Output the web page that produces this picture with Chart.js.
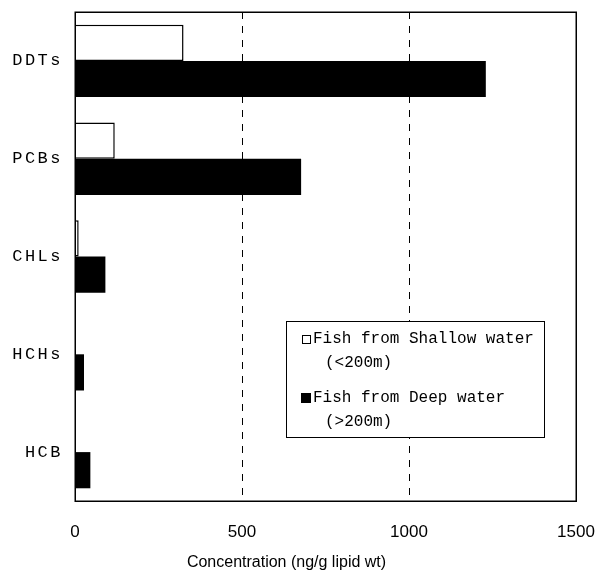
<!DOCTYPE html>
<html><head><meta charset="utf-8">
<script src="https://cdn.jsdelivr.net/npm/chart.js@4.4.1/dist/chart.umd.min.js"></script>
<style>html,body{margin:0;padding:0;background:#fff}#wrap{width:599px;height:573px;position:relative}</style>
</head><body><div id="wrap"><canvas id="c"></canvas></div>
<script>
const categories = ['DDTs', 'PCBs', 'CHLs', 'HCHs', 'HCB'];
const shallowValues = [325, 119, 11, 0, 0];
const deepValues = [1230, 677, 91, 27, 46];
const xTickValues = [0, 500, 1000, 1500];
const shallowLabel = ['Fish from Shallow water', '(<200m)'];
const deepLabel = ['Fish from Deep water', '(>200m)'];
const xAxisTitle = 'Concentration (ng/g lipid wt)';

Chart.defaults.color = '#000';
Chart.defaults.font.family = '"Liberation Sans", Arial, sans-serif';

const decorPlugin = {
  id: 'decor',
  beforeDraw(chart) {
    const y = chart.scales.y;
    if (y && !y._lsWrapped) {
      const orig = y.drawLabels;
      y.drawLabels = function (area) {
        const ctx = this.ctx;
        const prev = ctx.letterSpacing;
        try { ctx.letterSpacing = '2.5px'; } catch (e) {}
        orig.call(this, area);
        try { ctx.letterSpacing = prev || '0px'; } catch (e) {}
      };
      y._lsWrapped = true;
    }
  },
  afterDraw(chart) {
    const ctx = chart.ctx;
    const a = chart.chartArea;
    ctx.save();
    // frame
    ctx.strokeStyle = '#000';
    ctx.lineWidth = 1.5;
    ctx.setLineDash([]);
    ctx.strokeRect(Math.round(a.left) + 0.25, Math.round(a.top) + 0.25, Math.round(a.right - a.left), Math.round(a.bottom - a.top));
    // axis title
    ctx.fillStyle = '#000';
    ctx.font = '16px "Liberation Sans", Arial, sans-serif';
    ctx.textAlign = 'center';
    ctx.textBaseline = 'middle';
    ctx.fillText(xAxisTitle, (a.left + a.right) / 2 - 39, 563);
    // legend
    const lx = 286, ly = 321, lw = 258, lh = 116;
    ctx.fillStyle = '#fff';
    ctx.fillRect(lx, ly, lw, lh);
    ctx.lineWidth = 1;
    ctx.strokeStyle = '#000';
    ctx.strokeRect(lx + 0.5, ly + 0.5, lw, lh);
    ctx.fillStyle = '#fff';
    ctx.fillRect(302, 335, 9, 9);
    ctx.strokeRect(302.5, 335.5, 8, 8);
    ctx.fillStyle = '#000';
    ctx.fillRect(301, 393, 10, 10);
    ctx.font = '16px "Liberation Mono", "Courier New", monospace';
    ctx.textAlign = 'left';
    ctx.fillText(shallowLabel[0], 313, 339);
    ctx.fillText(shallowLabel[1], 325, 363);
    ctx.fillText(deepLabel[0], 313, 398);
    ctx.fillText(deepLabel[1], 325, 422);
    ctx.restore();
  }
};

new Chart(document.getElementById('c'), {
  type: 'bar',
  data: {
    labels: categories,
    datasets: [
      { label: shallowLabel.join(' '), data: shallowValues, backgroundColor: '#fff', borderColor: '#000', borderWidth: 1.5,
        categoryPercentage: 0.74, barPercentage: 1 },
      { label: deepLabel.join(' '), data: deepValues, backgroundColor: '#000', borderColor: '#000', borderWidth: 0,
        categoryPercentage: 0.74, barPercentage: 1 }
    ]
  },
  options: {
    indexAxis: 'y',
    responsive: true,
    maintainAspectRatio: false,
    animation: false,
    devicePixelRatio: 1,
    layout: { padding: { left: 0, top: 12, right: 23, bottom: 0 } },
    plugins: { legend: { display: false }, tooltip: { enabled: false }, title: { display: false } },
    scales: {
      x: {
        type: 'linear', min: 0, max: 1500,
        afterBuildTicks: s => { s.ticks = xTickValues.map(v => ({ value: v })); },
        afterFit: s => { s.height = 72; s.paddingLeft = 0; s.paddingRight = 0; },
        grid: { color: '#000', lineWidth: 1, drawTicks: false },
        border: { display: true, color: '#000', width: 1, dash: [7, 7] },
        ticks: { font: { size: 17, family: '"Liberation Sans", Arial, sans-serif' }, color: '#000', padding: 21, maxRotation: 0,
          callback: v => String(v) }
      },
      y: {
        afterFit: s => { s.width = 75; s.paddingTop = 0; s.paddingBottom = 0; },
        grid: { display: false, drawTicks: false },
        border: { display: true, color: '#000', width: 1 },
        ticks: { font: { size: 17, family: '"Liberation Mono", "Courier New", monospace' }, color: '#000', padding: 12 }
      }
    }
  },
  plugins: [decorPlugin]
});
</script>
</body></html>
